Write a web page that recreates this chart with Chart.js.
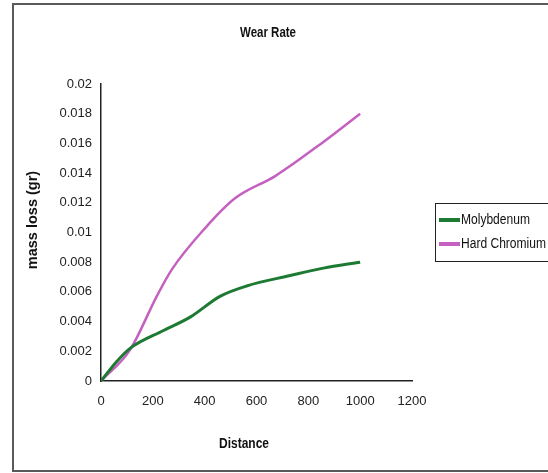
<!DOCTYPE html>
<html><head><meta charset="utf-8">
<script src="https://cdn.jsdelivr.net/npm/chart.js@4"></script>
<style>html,body{margin:0;padding:0;background:#fff;}#wrap{width:548px;height:473px;position:relative;}</style>
</head><body><div id="wrap"><canvas id="c" width="548" height="473"></canvas></div>
<script>
const title = 'Wear Rate';
const xTitle = 'Distance';
const yTitle = 'mass loss (gr)';
const seriesNames = ['Molybdenum', 'Hard Chromium'];
const moDistance = [0, 60, 112, 241, 344, 459, 562, 730, 858, 1000];
const moLoss = [0, 0.0013, 0.0022, 0.0034, 0.0043, 0.0057, 0.0064, 0.0071, 0.0076, 0.008];
const crDistance = [0, 112, 215, 273, 402, 517, 672, 858, 1000];
const crLoss = [0, 0.0021, 0.0057, 0.0075, 0.0103, 0.0123, 0.0138, 0.0161, 0.018];
const xTicks = [0, 200, 400, 600, 800, 1000, 1200];
const yTicks = [0, 0.002, 0.004, 0.006, 0.008, 0.01, 0.012, 0.014, 0.016, 0.018, 0.02];
const colors = ['#1d7a33', '#c461c0'];

const FONT = '"Liberation Sans", Arial, sans-serif';

const toPts = (xs, ys) => xs.map((x, i) => ({x: x, y: ys[i]}));

function narrowText(ctx, text, x, y, sx) {
  ctx.save();
  ctx.translate(x, y);
  ctx.scale(sx, 1);
  ctx.fillText(text, 0, 0);
  ctx.restore();
}

const decor = {
  id: 'decor',
  afterDraw(chart) {
    const ctx = chart.ctx;
    ctx.save();
    ctx.strokeStyle = '#5a5a5a';
    ctx.lineWidth = 2;
    ctx.beginPath();
    ctx.moveTo(560, 4); ctx.lineTo(13, 4); ctx.lineTo(13, 471); ctx.lineTo(560, 471);
    ctx.stroke();
    ctx.fillStyle = '#111';
    ctx.textAlign = 'center';
    ctx.textBaseline = 'middle';
    ctx.font = 'bold 14px ' + FONT;
    narrowText(ctx, title, 268, 33, 0.82);
    ctx.font = 'bold 15px ' + FONT;
    narrowText(ctx, xTitle, 244, 444, 0.8);
    ctx.translate(33, 220);
    ctx.rotate(-Math.PI / 2);
    ctx.font = 'bold 14.5px ' + FONT;
    ctx.fillText(yTitle, 0, 0);
    ctx.restore();
    // legend
    ctx.save();
    ctx.strokeStyle = '#222';
    ctx.lineWidth = 1;
    ctx.strokeRect(435.5, 203.5, 130, 58);
    ctx.font = '14px ' + FONT;
    ctx.textAlign = 'left';
    ctx.textBaseline = 'middle';
    chart.data.datasets.forEach((ds, i) => {
      const y = 220 + i * 24;
      ctx.strokeStyle = ds.borderColor;
      ctx.lineWidth = 4;
      ctx.beginPath(); ctx.moveTo(439, y); ctx.lineTo(460, y); ctx.stroke();
      ctx.fillStyle = '#111';
      narrowText(ctx, ds.label, 461, y, 0.86);
    });
    ctx.restore();
  }
};

new Chart(document.getElementById('c'), {
  type: 'line',
  data: {
    datasets: [
      {label: seriesNames[0], data: toPts(moDistance, moLoss), borderColor: colors[0], borderWidth: 3, pointRadius: 0, cubicInterpolationMode: 'monotone', fill: false},
      {label: seriesNames[1], data: toPts(crDistance, crLoss), borderColor: colors[1], borderWidth: 2.5, pointRadius: 0, cubicInterpolationMode: 'monotone', fill: false}
    ]
  },
  options: {
    responsive: false,
    animation: false,
    layout: {padding: {left: 0, top: 84, right: 136, bottom: 0}},
    plugins: {legend: {display: false}, title: {display: false}, tooltip: {enabled: false}},
    scales: {
      x: {
        type: 'linear', min: 0, max: 1200,
        afterBuildTicks(s) { s.ticks = xTicks.map(v => ({value: v})); },
        afterFit(s) { s.height = 92; },
        grid: {display: false, drawOnChartArea: false, drawTicks: true, tickLength: 5, color: '#222'},
        border: {display: true, color: '#222', width: 1.5},
        ticks: {color: '#222', font: {family: FONT, size: 13}, padding: 8, maxRotation: 0, callback: v => String(v)}
      },
      y: {
        type: 'linear', min: 0, max: 0.02,
        afterBuildTicks(s) { s.ticks = yTicks.map(v => ({value: v})); },
        afterFit(s) { s.width = 101; },
        grid: {display: false, drawOnChartArea: false, drawTicks: true, tickLength: 5, color: '#222'},
        border: {display: true, color: '#222', width: 1.5},
        ticks: {color: '#222', font: {family: FONT, size: 13}, padding: 4, callback: v => String(+v.toFixed(3))}
      }
    }
  },
  plugins: [decor]
});
</script>
</body></html>
